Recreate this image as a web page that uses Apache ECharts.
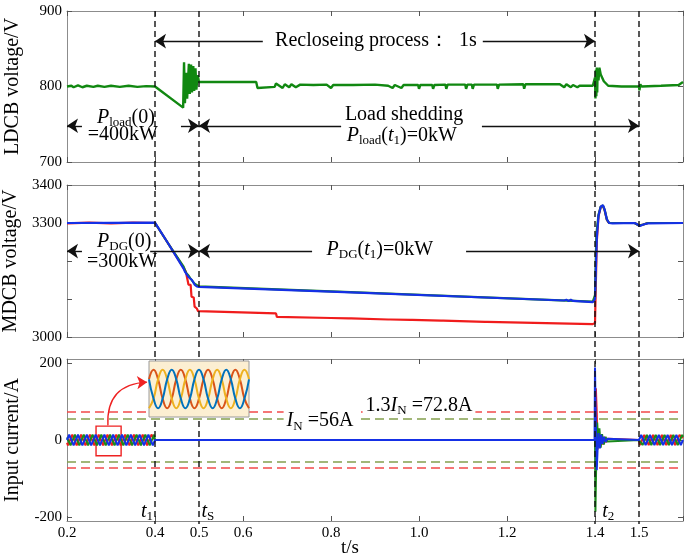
<!DOCTYPE html>
<html>
<head>
<meta charset="utf-8">
<script src="https://cdn.jsdelivr.net/npm/echarts@6/dist/echarts.min.js"></script>
<style>
html, body { margin: 0; padding: 0; background: #fff; }
#chart { width: 685px; height: 556px; }
</style>
</head>
<body>
<div id="chart"></div>
<script>
var F = 'Liberation Serif';

// x axis ticks / labels (t/s)
var xTicks = [0.2, 0.4, 0.6, 0.8, 1.0, 1.2, 1.4, 1.6];
var xLabels = [0.2, 0.4, 0.5, 0.6, 0.8, 1.0, 1.2, 1.4, 1.5];
var eventTimes = [0.4, 0.5, 1.4, 1.5];

// LDCB voltage (V)
var ldcbV = [
  [0.2,800],[0.21,801],[0.215,799],[0.225,801.5],[0.235,799],[0.245,801],[0.26,799.5],[0.27,801],
  [0.285,799.5],[0.3,801],[0.32,799.5],[0.34,801],[0.36,799.5],[0.38,800.5],[0.4,800],
  [0.464,772],[0.466,832],[0.468,778],[0.471,818],[0.473,784],[0.477,830],[0.479,790],[0.482,829],
  [0.484,792],[0.487,827],[0.489,794],[0.492,824],[0.494,796],[0.497,815],[0.5,806],
  [0.63,806],[0.633,798],[0.637,799],[0.672,799.5],[0.675,804],[0.68,802],[0.69,798],[0.695,803],
  [0.705,799],[0.71,803],[0.72,799],[0.73,802.5],[0.76,802],[0.79,802.5],[0.8,798],[0.805,802],
  [0.85,802],[0.9,802.5],[0.93,801],[0.94,798],[0.945,802],[0.96,798],[0.965,802],[0.998,802],
  [1.0,797],[1.003,802],[1.03,802],[1.032,797],[1.035,802],[1.06,802.5],[1.062,797],[1.065,802.5],
  [1.105,802.5],[1.107,797],[1.11,802.5],[1.12,802.5],[1.122,797],[1.125,802.5],[1.177,802.5],
  [1.179,797],[1.182,802.5],[1.237,803],[1.239,797],[1.242,803],[1.32,803],[1.33,799],[1.335,803],
  [1.345,799],[1.35,802],[1.36,799],[1.365,801],[1.395,801],
  [1.399,800],[1.4,812],[1.401,784],[1.402,822],[1.403,787],[1.404,825],[1.405,792],[1.406,823],
  [1.408,808],[1.41,825],[1.413,816],[1.42,807],[1.43,801],[1.46,800],[1.5,800],[1.501,795],
  [1.503,803],[1.506,800],[1.55,801],[1.59,802],[1.6,806]
];

// MDCB voltage (V)
var mdcbRed = [
  [0.2,3299],[0.25,3301],[0.3,3299],[0.35,3301],[0.4,3300],[0.43,3246],[0.465,3182],[0.47,3172],
  [0.474,3150],[0.476,3138],[0.481,3137],[0.483,3106],[0.488,3104],[0.49,3080],[0.495,3075],
  [0.498,3068],[0.5,3066],[0.675,3062],[0.677,3053],[0.8,3050],[0.84,3049],[0.843,3052],[0.846,3049],
  [0.93,3046],[0.932,3049],[0.935,3046],[0.98,3045],[0.982,3048],[0.985,3045],[1.05,3043],
  [1.052,3046],[1.055,3043],[1.15,3040],[1.152,3043],[1.155,3040],[1.395,3034],[1.4,3036],
  [1.404,3250],[1.408,3318],[1.413,3342],[1.418,3345],[1.422,3333],[1.427,3308],[1.432,3300],
  [1.49,3300],[1.5,3293],[1.51,3296],[1.52,3300],[1.6,3300]
];
var mdcbGreen = [
  [0.2,3300],[0.4,3300],[0.43,3246],[0.465,3185],[0.47,3170],[0.476,3162],[0.48,3155],[0.49,3140],
  [0.5,3133],[0.83,3119],[1.395,3093],[1.4,3110],[1.403,3270],[1.408,3322],[1.413,3343],
  [1.418,3346],[1.422,3334],[1.427,3309],[1.432,3300],[1.49,3300],[1.5,3293],[1.51,3296],
  [1.52,3300],[1.6,3300]
];
var mdcbBlue = [
  [0.2,3300],[0.4,3301],[0.43,3246],[0.465,3180],[0.468,3172],[0.472,3170],[0.476,3158],[0.48,3156],
  [0.484,3150],[0.487,3150],[0.49,3138],[0.495,3133],[0.5,3132],[0.83,3118],[1.33,3096],
  [1.335,3098],[1.34,3095],[1.345,3098],[1.35,3095],[1.395,3092],[1.4,3100],[1.404,3260],
  [1.408,3320],[1.413,3343],[1.418,3347],[1.422,3335],[1.427,3310],[1.432,3300],[1.44,3299],
  [1.49,3300],[1.497,3296],[1.502,3292],[1.51,3296],[1.52,3299],[1.6,3300]
];

// input currents (A)
var curRed = [
  [0.2,-7],[0.202,-14],[0.212,14],[0.222,-14],[0.232,14],[0.242,-14],[0.252,14],[0.262,-14],
  [0.272,14],[0.282,-14],[0.292,14],[0.302,-14],[0.312,14],[0.322,-14],[0.332,14],[0.342,-14],
  [0.352,14],[0.362,-14],[0.372,14],[0.382,-14],[0.392,14],[0.4,0],[1.4,0],[1.402,134],[1.404,70],
  [1.406,-25],[1.408,25],[1.411,-18],[1.414,12],[1.417,-12],[1.421,8],[1.425,-6],[1.429,3],
  [1.433,0],[1.5,0],[1.502,-13],[1.512,13],[1.522,-13],[1.532,13],[1.542,-13],[1.552,13],
  [1.562,-13],[1.572,13],[1.582,-13],[1.592,13],[1.6,5]
];
var curGreen = [
  [0.2,7],[0.208,-14],[0.218,14],[0.228,-14],[0.238,14],[0.248,-14],[0.258,14],[0.268,-14],
  [0.278,14],[0.288,-14],[0.298,14],[0.308,-14],[0.318,14],[0.328,-14],[0.338,14],[0.348,-14],
  [0.358,14],[0.368,-14],[0.378,14],[0.388,-14],[0.398,14],[0.4,0],[1.4,0],[1.401,-186],
  [1.403,-40],[1.405,45],[1.407,-10],[1.41,30],[1.413,-20],[1.416,15],[1.42,-12],[1.424,8],
  [1.428,-4],[1.432,0],[1.5,0],[1.508,-13],[1.518,13],[1.528,-13],[1.538,13],[1.548,-13],
  [1.558,13],[1.568,-13],[1.578,13],[1.588,-13],[1.598,13],[1.6,8]
];
var curBlue = [
  [0.2,0],[0.205,14],[0.215,-14],[0.225,14],[0.235,-14],[0.245,14],[0.255,-14],[0.265,14],
  [0.275,-14],[0.285,14],[0.295,-14],[0.305,14],[0.315,-14],[0.325,14],[0.335,-14],[0.345,14],
  [0.355,-14],[0.365,14],[0.375,-14],[0.385,14],[0.395,-14],[0.4,0],[1.399,0],[1.4,188],
  [1.402,30],[1.404,-78],[1.406,-20],[1.408,18],[1.411,-22],[1.414,14],[1.417,-10],[1.42,8],
  [1.424,-5],[1.428,3],[1.432,0],[1.5,0],[1.505,13],[1.515,-13],[1.525,13],[1.535,-13],
  [1.545,13],[1.555,-13],[1.565,13],[1.575,-13],[1.585,13],[1.595,-13],[1.6,0]
];
var currentLimits = [72.8, 56];

// zoomed three-phase waveforms (inset, per unit)
var insetPhase = [0,1,2,3,4,5,6,7,8,9,10,11,12,13,14,15,16,17,18,19,20,21,22];
var insetA = [.5,1,.5,-.5,-1,-.5,.5,1,.5,-.5,-1,-.5,.5,1,.5,-.5,-1,-.5,.5,1,.5,-.5,-1];
var insetB = [-1,-.5,.5,1,.5,-.5,-1,-.5,.5,1,.5,-.5,-1,-.5,.5,1,.5,-.5,-1,-.5,.5,1,.5];
var insetC = [.5,-.5,-1,-.5,.5,1,.5,-.5,-1,-.5,.5,1,.5,-.5,-1,-.5,.5,1,.5,-.5,-1,-.5,.5];

// arrows: [from t, to t, level]
var ldcbArrows = [[0.645,0.4,860],[1.145,1.4,860],[0.234,0.2,748],[0.459,0.5,748],[0.823,0.5,748],[1.143,1.5,748]];
var mdcbArrows = [[0.234,0.2,3226],[0.389,0.5,3226],[0.757,0.5,3226],[1.107,1.5,3226]];
var zoomArrow = [[0.293, 38], [0.382, 150]];
var zoomBox = [[0.266, 36], [0.323, -41]];

var notes = [
  {g: 0, at: [0.902, 860], t: 'Recloseing process：  1s'},
  {g: 0, at: [0.334, 759], t: '{i|P}{s|load}(0)'},
  {g: 0, at: [0.327, 736], t: '=400kW'},
  {g: 0, at: [0.966, 763], t: 'Load shedding'},
  {g: 0, at: [0.961, 735], t: '{i|P}{s|load}({i|t}{s|1})=0kW'},
  {g: 1, at: [0.330, 3250], t: '{i|P}{s|DG}(0)'},
  {g: 1, at: [0.325, 3197], t: '=300kW'},
  {g: 1, at: [0.911, 3229], t: '{i|P}{s|DG}({i|t}{s|1})=0kW'},
  {g: 2, at: [1.0, 90], t: '1.3{i|I}{s|N} =72.8A', bg: true},
  {g: 2, at: [0.775, 49], t: '{i|I}{s|N} =56A', bg: true},
  {g: 2, at: [0.382, -186], t: '{i|t}{s|1}'},
  {g: 2, at: [0.52, -186], t: '{i|t}{s|S}'},
  {g: 2, at: [1.43, -186], t: '{i|t}{s|2}'}
];

var chart = echarts.init(document.getElementById('chart'));

function xAx(grid, pos, labels) {
  return {
    type: 'value', gridIndex: grid, position: pos, min: 0.2, max: 1.6,
    axisLine: {show: true, onZero: false, lineStyle: {color: '#8c8c8c', width: 1}},
    axisTick: {show: true, inside: true, length: 5, customValues: xTicks, lineStyle: {color: '#555'}},
    axisLabel: labels ? {
      show: true, customValues: xLabels, margin: 5, color: '#000', fontSize: 15, fontFamily: F,
      formatter: function (v) { return v.toFixed(1); }
    } : {show: false},
    splitLine: {show: false}
  };
}

function yAx(grid, pos, min, max, ticks, labels, name) {
  var ax = {
    type: 'value', gridIndex: grid, position: pos, min: min, max: max,
    axisLine: {show: true, onZero: false, lineStyle: {color: '#8c8c8c', width: 1}},
    axisTick: {show: true, inside: true, length: 5, customValues: ticks, lineStyle: {color: '#555'}},
    axisLabel: labels ? {
      show: true, customValues: labels, margin: 5, color: '#000', fontSize: 15, fontFamily: F,
      formatter: function (v) { return String(v); }
    } : {show: false},
    splitLine: {show: false}
  };
  if (name) {
    ax.name = name;
    ax.nameLocation = 'middle';
    ax.nameGap = 44;
    ax.nameTextStyle = {fontSize: 20, fontFamily: F, color: '#000'};
  }
  return ax;
}

function arrowLines(list) {
  return {
    silent: true, animation: false, symbol: ['none', 'arrow'], symbolSize: 11,
    label: {show: false},
    lineStyle: {color: '#111', width: 1.4, type: 'solid'},
    itemStyle: {color: '#111'},
    data: list.map(function (a) { return [{coord: [a[0], a[2]]}, {coord: [a[1], a[2]]}]; })
  };
}

function line(name, data, color, xi, width, extra) {
  var s = {
    name: name, type: 'line', xAxisIndex: xi, yAxisIndex: xi, data: data,
    showSymbol: false, symbol: 'none', animation: false, clip: true,
    lineStyle: {color: color, width: width || 2}, itemStyle: {color: color}
  };
  for (var k in extra) s[k] = extra[k];
  return s;
}

var limitStyle = function (c) { return {color: c, width: 1.6, type: [9, 5]}; };

var option = {
  animation: false,
  grid: [
    {left: 67, top: 11, width: 616, height: 151, outerBoundsMode: 'none'},
    {left: 67, top: 185, width: 616, height: 152, outerBoundsMode: 'none'},
    {left: 67, top: 359, width: 616, height: 162, outerBoundsMode: 'none'},
    {left: 149, top: 361, width: 100, height: 56, outerBoundsMode: 'none', show: true,
     backgroundColor: '#fcefd2', borderColor: '#9a9a9a', borderWidth: 1, z: 8}
  ],
  xAxis: [
    xAx(0, 'bottom', false), xAx(1, 'bottom', false), xAx(2, 'bottom', true),
    xAx(0, 'top', false), xAx(1, 'top', false), xAx(2, 'top', false),
    {type: 'category', gridIndex: 3, data: insetPhase, boundaryGap: false, show: false}
  ],
  yAxis: [
    yAx(0, 'left', 700, 900, [700, 800, 900], [700, 800, 900], 'LDCB voltage/V'),
    yAx(1, 'left', 3000, 3400, [3000, 3100, 3200, 3300, 3400], [3000, 3300, 3400], 'MDCB voltage/V'),
    yAx(2, 'left', -210, 210, [-200, 0, 200], [-200, 0, 200], 'Input current/A'),
    yAx(0, 'right', 700, 900, [700, 800, 900], null),
    yAx(1, 'right', 3000, 3400, [3000, 3100, 3200, 3300, 3400], null),
    yAx(2, 'right', -210, 210, [-200, 0, 200], null),
    {type: 'value', gridIndex: 3, min: -1.45, max: 1.45, show: false}
  ],
  series: [
    line('LDCB', ldcbV, '#118811', 0, 2.4, {markLine: arrowLines(ldcbArrows)}),
    line('MDCB a', mdcbRed, '#f01c1c', 1, 2.2),
    line('MDCB b', mdcbGreen, '#1a8a1a', 1, 2.2),
    line('MDCB c', mdcbBlue, '#1530e6', 1, 2.2, {markLine: arrowLines(mdcbArrows)}),
    line('ia', curRed, '#f01c1c', 2, 2, {
      markLine: {
        silent: true, animation: false, symbol: 'none', label: {show: false},
        data: [
          {yAxis: currentLimits[0], lineStyle: limitStyle('#f24a4a')},
          {yAxis: -currentLimits[0], lineStyle: limitStyle('#f24a4a')},
          {yAxis: currentLimits[1], lineStyle: limitStyle('#84a04e')},
          {yAxis: -currentLimits[1], lineStyle: limitStyle('#84a04e')}
        ]
      }
    }),
    line('ib', curGreen, '#1a8a1a', 2, 2),
    line('ic', curBlue, '#1530e6', 2, 2, {
      markArea: {
        silent: true, animation: false,
        itemStyle: {color: 'rgba(0,0,0,0)', borderColor: '#ee2222', borderWidth: 1.4},
        data: [[{coord: zoomBox[0]}, {coord: zoomBox[1]}]]
      }
    }),
    {
      type: 'lines', coordinateSystem: 'cartesian2d', xAxisIndex: 2, yAxisIndex: 2,
      silent: true, animation: false, z: 4,
      symbol: ['none', 'arrow'], symbolSize: 10,
      lineStyle: {color: '#ee2222', width: 1.4, opacity: 1, curveness: 0.5},
      data: [{coords: zoomArrow}]
    },
    line('zoom a', insetA, '#d95319', 6, 2, {smooth: 0.5, z: 9}),
    line('zoom c', insetB, '#edb120', 6, 2, {smooth: 0.5, z: 9}),
    line('zoom b', insetC, '#0072bd', 6, 2, {smooth: 0.5, z: 9})
  ]
};

chart.setOption(option);

// overlay: event lines and text, placed through the chart's own scales
var rich = {
  i: {fontStyle: 'italic', fontSize: 20, fontFamily: F, lineHeight: 23, fill: '#000'},
  s: {fontSize: 13, fontFamily: F, verticalAlign: 'bottom', lineHeight: 13, fill: '#000'}
};
var gfx = [];
var yTop = chart.convertToPixel({yAxisIndex: 0}, 900);
var yBot = chart.convertToPixel({yAxisIndex: 2}, -210);
eventTimes.forEach(function (t) {
  var px = chart.convertToPixel({xAxisIndex: 0}, t);
  gfx.push({
    type: 'line', z: 5, silent: true,
    shape: {x1: px, y1: yTop, x2: px, y2: yBot + 3},
    style: {stroke: '#111', lineWidth: 1.4, lineDash: [6, 4]}
  });
});
notes.forEach(function (n) {
  var p = chart.convertToPixel({gridIndex: n.g}, n.at);
  gfx.push({
    type: 'text', z: 10, silent: true, x: p[0], y: p[1],
    style: {
      text: n.t, rich: rich, fontSize: 20, fontFamily: F, fill: '#000',
      align: 'center', verticalAlign: 'middle', lineHeight: 23,
      backgroundColor: n.bg ? '#fff' : null, padding: n.bg ? [0, 3] : 0
    }
  });
});
gfx.push({
  type: 'text', z: 10, silent: true,
  x: chart.convertToPixel({xAxisIndex: 2}, 0.843), y: yBot + 27,
  style: {text: 't/s', fontSize: 19, fontFamily: F, fill: '#000', align: 'center', verticalAlign: 'middle'}
});
chart.setOption({graphic: gfx});

window.addEventListener('resize', chart.resize);
</script>
</body>
</html>
